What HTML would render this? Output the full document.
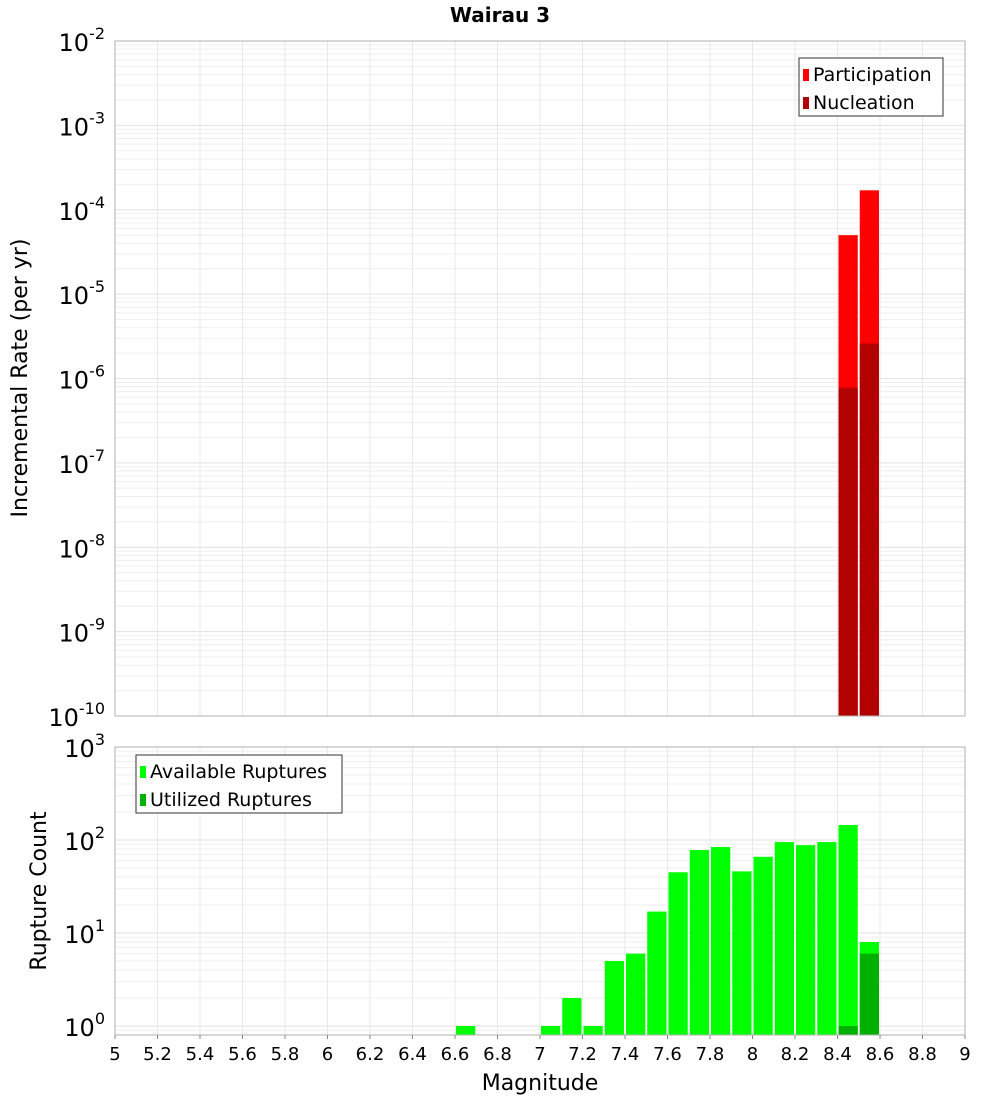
<!DOCTYPE html>
<html><head><meta charset="utf-8"><style>
body{margin:0;background:#fff;font-family:"DejaVu Sans","Liberation Sans",sans-serif;}
</style></head><body>
<svg id="chart" width="1000" height="1100" xmlns="http://www.w3.org/2000/svg" font-family="DejaVu Sans, Liberation Sans, sans-serif">
<text x="500" y="22" text-anchor="middle" font-size="20" font-weight="bold">Wairau 3</text>
<g id="topPanel"></g>
<g id="botPanel"></g>
<text transform="translate(27,378) rotate(-90)" text-anchor="middle" font-size="22">Incremental Rate (per yr)</text>
<text transform="translate(46,891) rotate(-90)" text-anchor="middle" font-size="22">Rupture Count</text>
<text x="540" y="1090" text-anchor="middle" font-size="22">Magnitude</text>
</svg>
<script>
const magBins=[6.65,7.05,7.15,7.25,7.35,7.45,7.55,7.65,7.75,7.85,7.95,8.05,8.15,8.25,8.35,8.45,8.55];
const availCounts=[1,1,2,1,5,6,17,45,78,84,46,66,95,88,95,145,8];
const usedBins=[8.45,8.55];
const usedCounts=[1,6];
const rateBins=[8.45,8.55];
const partRates=[5e-5,1.7e-4];
const nuclRates=[7.8e-7,2.6e-6];
const xTicks=[5,5.2,5.4,5.6,5.8,6,6.2,6.4,6.6,6.8,7,7.2,7.4,7.6,7.8,8,8.2,8.4,8.6,8.8,9];
const rateExps=[-2,-3,-4,-5,-6,-7,-8,-9,-10];
const countExps=[3,2,1,0];

const NS="http://www.w3.org/2000/svg";
const X0=115,X1=965;
const xs=m=>X0+(m-5)/4*(X1-X0);
function el(p,t,a){const e=document.createElementNS(NS,t);for(const k in a)e.setAttribute(k,a[k]);p.appendChild(e);return e;}
function panel(g,t0,b0,ymin,ymax,ys){
  el(g,'rect',{x:X0,y:t0,width:X1-X0,height:b0-t0,fill:'#fff'});
  for(let d=Math.floor(ymin);d<Math.ceil(ymax);d++)for(let k=1;k<10;k++){
    const v=d+Math.log10(k); if(v<ymin||v>ymax)continue;
    const y=ys(v);
    const l=el(g,'line',{x1:X0,x2:X1,y1:y,y2:y,stroke:k==1?'#e2e2e2':'#efefef','stroke-width':1});
    
    
  }
  xTicks.forEach(t=>{const x=xs(t);const l=el(g,'line',{x1:x,x2:x,y1:t0,y2:b0,stroke:'#e8e8e8'});
    
    });
}
function ylabels(g,exps,ys){
  exps.forEach(e=>{const y=ys(e);const t=el(g,'text',{x:105,y:y+10,'text-anchor':'end','font-size':24});
    
    
    t.textContent='10';const s=el(t,'tspan',{dy:-12,'font-size':16});s.textContent=e;});
}
function bar(g,m,v,ys,base,fill,name){
  const x=xs(m-0.05)+1,w=xs(m+0.05)-xs(m-0.05)-2,y=ys(Math.log10(v));
  const r=el(g,'rect',{x:x,y:y,width:w,height:base-y,fill:fill});
  
  
}
const topG=document.getElementById('topPanel');
const tT=41,tB=716,tys=v=>tT+(-2-v)/8*(tB-tT);
panel(topG,tT,tB,-10,-2,tys);
rateBins.forEach((m,i)=>bar(topG,m,partRates[i],tys,tB,'#ff0000','participation-bar'));
rateBins.forEach((m,i)=>bar(topG,m,nuclRates[i],tys,tB,'#b30000','nucleation-bar'));
el(topG,'rect',{x:X0,y:tT,width:X1-X0,height:tB-tT,fill:'none',stroke:'#b0b0b0'});
ylabels(topG,rateExps,tys);
const botG=document.getElementById('botPanel');
const bT=747,bB=1035,dec=93,bys=v=>bT+(3-v)*dec,bmin=3-(bB-bT)/dec;
panel(botG,bT,bB,bmin,3,bys);
magBins.forEach((m,i)=>bar(botG,m,availCounts[i],bys,bB,'#00ff00','available-bar'));
usedBins.forEach((m,i)=>bar(botG,m,usedCounts[i],bys,bB,'#00b000','utilized-bar'));
el(botG,'rect',{x:X0,y:bT,width:X1-X0,height:bB-bT,fill:'none',stroke:'#b0b0b0'});
ylabels(botG,countExps,bys);
xTicks.forEach(t=>{const x=xs(t);
  const tk=el(botG,'line',{x1:x,x2:x,y1:bB,y2:bB+4,stroke:'#888'});
  
  
  const l=el(botG,'text',{x:x,y:1060,'text-anchor':'middle','font-size':18});
  
  
  l.textContent=String(t);});
function legend(g,x,y,w,items,name){
  const lg=el(g,'g',{});
  
  
  el(lg,'rect',{x:x,y:y,width:w,height:58,fill:'#fff',stroke:'#333'});
  items.forEach((it,i)=>{
    el(lg,'rect',{x:x+4,y:y+11+i*28,width:6,height:12,fill:it[1]});
    const t=el(lg,'text',{x:x+14,y:y+23+i*28,'font-size':19});t.textContent=it[0];
    
    
  });
}
legend(topG,799,58,144,[['Participation','#ff0000'],['Nucleation','#b30000']],'rate-legend');
legend(botG,136,755,206,[['Available Ruptures','#00ff00'],['Utilized Ruptures','#00b000']],'count-legend');
</script>
</body></html>
